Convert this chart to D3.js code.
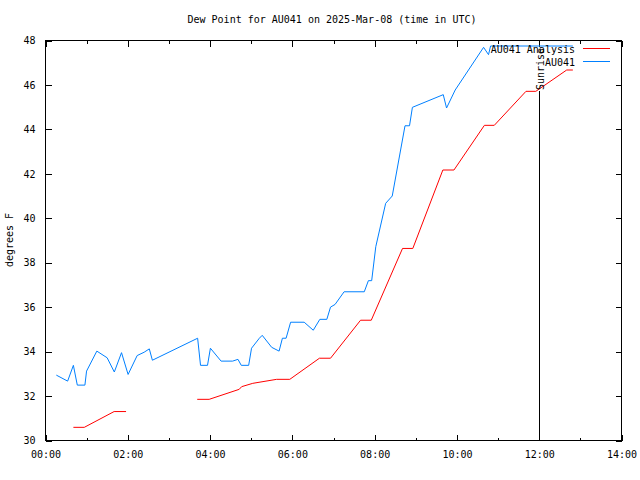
<!DOCTYPE html>
<html><head><meta charset="utf-8">
<script src="https://cdn.jsdelivr.net/npm/d3@7"></script>
<style>
body{margin:0;background:#fff;}
text{font-family:"DejaVu Sans Mono","Liberation Mono",monospace;font-size:10px;fill:#000;}
</style></head>
<body>
<svg id="c" width="640" height="480"></svg>
<script>
// Data (hours UTC, degrees F)
const obsTimes = [0.275,0.55,0.69,0.785,0.97,1.01,1.26,1.51,1.685,1.86,2.02,2.24,2.41,2.535,2.61,3.71,3.78,3.95,4.02,4.28,4.56,4.69,4.77,4.95,5.02,5.21,5.28,5.51,5.69,5.77,5.86,5.97,6.30,6.52,6.68,6.85,6.94,7.05,7.27,7.76,7.86,7.94,8.04,8.28,8.44,8.75,8.86,8.93,9.68,9.76,9.97,10.66,10.78,10.83,12.83];
const obsValues = [32.92,32.65,33.36,32.47,32.47,33.1,34.0,33.7,33.06,33.93,32.95,33.8,33.95,34.1,33.59,34.58,33.36,33.36,34.13,33.55,33.55,33.63,33.36,33.36,34.13,34.58,34.71,34.17,34.0,34.58,34.58,35.3,35.3,34.94,35.43,35.43,35.98,36.1,36.67,36.67,37.17,37.17,38.7,40.65,40.98,44.14,44.14,44.97,45.54,44.94,45.75,47.67,47.34,47.73,47.73];
const anaTimes = [0.69,0.955,1.68,1.97,2.5,3.70,3.99,4.72,4.78,5.05,5.63,5.95,6.67,6.94,7.67,7.93,8.69,8.94,9.67,9.94,10.68,10.92,11.69,11.93,12.68,12.83];
const anaValues = [30.57,30.57,31.28,31.28,null,31.83,31.83,32.28,32.40,32.55,32.73,32.73,33.68,33.68,35.39,35.39,38.62,38.62,42.15,42.15,44.16,44.16,45.69,45.69,46.65,46.65];
const xTicks = [0,2,4,6,8,10,12,14];
const xMinorTicks = [1,3,5,7,9,11,13];
const yTicks = [30,32,34,36,38,40,42,44,46,48];
const sunriseTime = 12.0;
const titleText = "Dew Point for AU041 on 2025-Mar-08 (time in UTC)";
const yLabel = "degrees F";
const seriesNames = ["AU041 Analysis","AU041"];
const seriesColors = ["#ff0000","#0080ff"];

const svg = d3.select("#c");
const L=45,R=621,T=40,B=440;
const x = d3.scaleLinear().domain([0,14]).range([L,R]);
const y = d3.scaleLinear().domain([30,48]).range([B,T]);
const fmt = h => String(h).padStart(2,"0")+":00";

// frame
svg.append("rect").attr("x",L+0.5).attr("y",T+0.5).attr("width",R-L).attr("height",B-T)
  .attr("fill","none").attr("stroke","#000").attr("shape-rendering","crispEdges");

// axes (ticks inward)
svg.append("g").attr("transform",`translate(0.5,${B+0.5})`)
  .call(d3.axisBottom(x).tickValues(xTicks).tickFormat(fmt).tickSizeInner(-6).tickSizeOuter(0).tickPadding(10));
svg.append("g").attr("transform",`translate(0.5,${B+0.5})`)
  .call(d3.axisBottom(x).tickValues(xMinorTicks).tickFormat("").tickSizeInner(-3).tickSizeOuter(0));
svg.append("g").attr("transform",`translate(0.5,${T+0.5})`)
  .call(d3.axisTop(x).tickValues(xTicks).tickFormat("").tickSizeInner(-6).tickSizeOuter(0));
svg.append("g").attr("transform",`translate(0.5,${T+0.5})`)
  .call(d3.axisTop(x).tickValues(xMinorTicks).tickFormat("").tickSizeInner(-3).tickSizeOuter(0));
svg.append("g").attr("transform",`translate(${L+0.5},0.5)`)
  .call(d3.axisLeft(y).tickValues(yTicks).tickFormat(d=>d).tickSizeInner(-6).tickSizeOuter(0).tickPadding(10));
svg.append("g").attr("transform",`translate(${R+0.5},0.5)`)
  .call(d3.axisRight(y).tickValues(yTicks).tickFormat("").tickSizeInner(-6).tickSizeOuter(0));
svg.selectAll(".domain").remove();
svg.selectAll(".tick line").attr("stroke","#000").attr("shape-rendering","crispEdges");
svg.selectAll(".tick text").attr("font-family",null).attr("font-size",null);

// title & labels
svg.append("text").attr("x",332).attr("y",23).attr("text-anchor","middle").text(titleText);
svg.append("text").attr("transform","translate(13,240) rotate(-90)").attr("text-anchor","middle").text(yLabel);

// lines
const ana = anaTimes.map((t,i)=>({t,v:anaValues[i]}));
const obs = obsTimes.map((t,i)=>({t,v:obsValues[i]}));
const line = d3.line().defined(d=>d.v!==null).x(d=>x(d.t)).y(d=>y(d.v));
svg.append("path").datum(ana).attr("d",line).attr("fill","none").attr("stroke",seriesColors[0]).attr("stroke-width",1);
svg.append("path").datum(obs).attr("d",line).attr("fill","none").attr("stroke",seriesColors[1]).attr("stroke-width",1);

// sunrise
const sx = Math.round(x(sunriseTime))+0.5;
svg.append("line").attr("x1",sx).attr("x2",sx)
  .attr("y1",B).attr("y2",y(45.7)).attr("stroke","#000").attr("shape-rendering","crispEdges");
svg.append("text").attr("transform",`translate(${sx+4},${y(45.7)-1}) rotate(-90)`)
  .attr("text-anchor","start").text("Sunrise");

// legend
seriesNames.forEach((n,i)=>{
  const ly = 49 + i*13;
  svg.append("text").attr("x",575).attr("y",ly+4).attr("text-anchor","end").text(n);
  svg.append("line").attr("x1",583).attr("x2",610).attr("y1",ly-0.5).attr("y2",ly-0.5)
    .attr("stroke",seriesColors[i]).attr("shape-rendering","crispEdges");
});
</script>
</body></html>
